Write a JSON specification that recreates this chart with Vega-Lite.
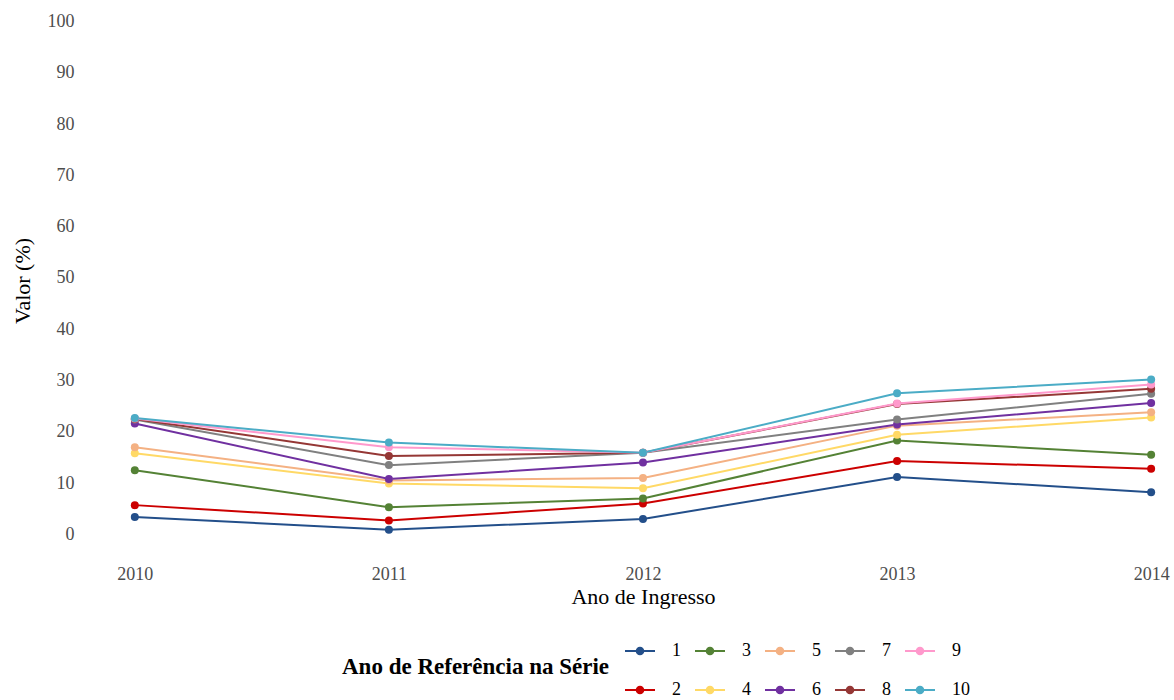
{
  "$schema": "https://vega.github.io/schema/vega-lite/v6.json",
  "width": 1090,
  "height": 559,
  "autosize": {"type": "none"},
  "padding": {"left": 84, "top": 1, "right": 0, "bottom": 140},
  "background": "white",
  "config": {"view": {"stroke": null}, "font": "Liberation Serif"},
  "data": {
    "values": [
      {"ano": 2010, "serie": "1", "valor": 3.4},
      {"ano": 2011, "serie": "1", "valor": 0.9},
      {"ano": 2012, "serie": "1", "valor": 3.0},
      {"ano": 2013, "serie": "1", "valor": 11.2},
      {"ano": 2014, "serie": "1", "valor": 8.2},
      {"ano": 2010, "serie": "2", "valor": 5.7},
      {"ano": 2011, "serie": "2", "valor": 2.7},
      {"ano": 2012, "serie": "2", "valor": 6.0},
      {"ano": 2013, "serie": "2", "valor": 14.3},
      {"ano": 2014, "serie": "2", "valor": 12.8},
      {"ano": 2010, "serie": "3", "valor": 12.5},
      {"ano": 2011, "serie": "3", "valor": 5.3},
      {"ano": 2012, "serie": "3", "valor": 7.0},
      {"ano": 2013, "serie": "3", "valor": 18.3},
      {"ano": 2014, "serie": "3", "valor": 15.5},
      {"ano": 2010, "serie": "4", "valor": 15.8},
      {"ano": 2011, "serie": "4", "valor": 9.9},
      {"ano": 2012, "serie": "4", "valor": 9.0},
      {"ano": 2013, "serie": "4", "valor": 19.4},
      {"ano": 2014, "serie": "4", "valor": 22.8},
      {"ano": 2010, "serie": "5", "valor": 17.0},
      {"ano": 2011, "serie": "5", "valor": 10.5},
      {"ano": 2012, "serie": "5", "valor": 11.0},
      {"ano": 2013, "serie": "5", "valor": 21.2},
      {"ano": 2014, "serie": "5", "valor": 23.8},
      {"ano": 2010, "serie": "6", "valor": 21.6},
      {"ano": 2011, "serie": "6", "valor": 10.8},
      {"ano": 2012, "serie": "6", "valor": 14.0},
      {"ano": 2013, "serie": "6", "valor": 21.4},
      {"ano": 2014, "serie": "6", "valor": 25.6},
      {"ano": 2010, "serie": "7", "valor": 22.4},
      {"ano": 2011, "serie": "7", "valor": 13.5},
      {"ano": 2012, "serie": "7", "valor": 15.9},
      {"ano": 2013, "serie": "7", "valor": 22.4},
      {"ano": 2014, "serie": "7", "valor": 27.4},
      {"ano": 2010, "serie": "8", "valor": 22.5},
      {"ano": 2011, "serie": "8", "valor": 15.3},
      {"ano": 2012, "serie": "8", "valor": 15.9},
      {"ano": 2013, "serie": "8", "valor": 25.4},
      {"ano": 2014, "serie": "8", "valor": 28.4},
      {"ano": 2010, "serie": "9", "valor": 22.6},
      {"ano": 2011, "serie": "9", "valor": 17.0},
      {"ano": 2012, "serie": "9", "valor": 15.9},
      {"ano": 2013, "serie": "9", "valor": 25.5},
      {"ano": 2014, "serie": "9", "valor": 29.2},
      {"ano": 2010, "serie": "10", "valor": 22.7},
      {"ano": 2011, "serie": "10", "valor": 17.9},
      {"ano": 2012, "serie": "10", "valor": 15.9},
      {"ano": 2013, "serie": "10", "valor": 27.5},
      {"ano": 2014, "serie": "10", "valor": 30.2}
    ]
  },
  "encoding": {
    "x": {
      "field": "ano",
      "type": "quantitative",
      "scale": {"domain": [2009.8, 2014.09], "nice": false, "zero": false},
      "axis": {
        "values": [2010, 2011, 2012, 2013, 2014],
        "format": "d",
        "grid": false,
        "domain": false,
        "ticks": false,
        "labelFlush": false,
        "labelFont": "Liberation Serif",
        "labelFontSize": 18,
        "labelColor": "#4d4d4d",
        "labelPadding": 5,
        "title": "Ano de Ingresso",
        "titleFont": "Liberation Serif",
        "titleFontSize": 22,
        "titleFontWeight": "normal",
        "titleColor": "black",
        "titlePadding": 3,
        "titleX": 559
      }
    },
    "y": {
      "field": "valor",
      "type": "quantitative",
      "scale": {"domain": [-5, 104], "nice": false, "zero": false},
      "axis": {
        "values": [0, 10, 20, 30, 40, 50, 60, 70, 80, 90, 100],
        "grid": false,
        "domain": false,
        "ticks": false,
        "labelFlush": false,
        "labelFont": "Liberation Serif",
        "labelFontSize": 18,
        "labelColor": "#4d4d4d",
        "labelPadding": 10,
        "title": "Valor (%)",
        "titleFont": "Liberation Serif",
        "titleFontSize": 22,
        "titleFontWeight": "normal",
        "titleColor": "black",
        "titlePadding": 13
      }
    },
    "color": {
      "field": "serie",
      "type": "nominal",
      "scale": {
        "domain": ["1", "3", "5", "7", "9", "2", "4", "6", "8", "10"],
        "range": ["#234f8a", "#548235", "#f4b183", "#808080", "#ff99cc", "#cc0000", "#ffd966", "#7030a0", "#953735", "#4bacc6"]
      },
      "legend": {
        "title": "Ano de Referência na Série",
        "orient": "none",
        "legendX": 258,
        "legendY": 634,
        "direction": "horizontal",
        "columns": 5,
        "titleOrient": "left",
        "titleAnchor": "middle",
        "titleBaseline": "middle",
        "titleFont": "Liberation Serif",
        "titleFontSize": 23,
        "titleFontWeight": "bold",
        "titleColor": "black",
        "titlePadding": 15,
        "titleLimit": 400,
        "symbolType": "M-1,0L1,0M-0.22,0A0.22,0.22,0,1,1,0.22,0A0.22,0.22,0,1,1,-0.22,0Z",
        "symbolSize": 900,
        "symbolStrokeWidth": 2,
        "labelFont": "Liberation Serif",
        "labelFontSize": 18,
        "labelColor": "black",
        "labelOffset": 16,
        "columnPadding": 10,
        "rowPadding": 14,
        "gridAlign": "each",
        "encode": {
          "symbols": {
            "update": {
              "fill": {"scale": "color", "field": "value"},
              "stroke": {"scale": "color", "field": "value"},
              "opacity": {"value": 1}
            }
          }
        }
      }
    }
  },
  "layer": [
    {"mark": {"type": "line", "strokeWidth": 2}},
    {"mark": {"type": "circle", "size": 64, "opacity": 1}}
  ]
}
